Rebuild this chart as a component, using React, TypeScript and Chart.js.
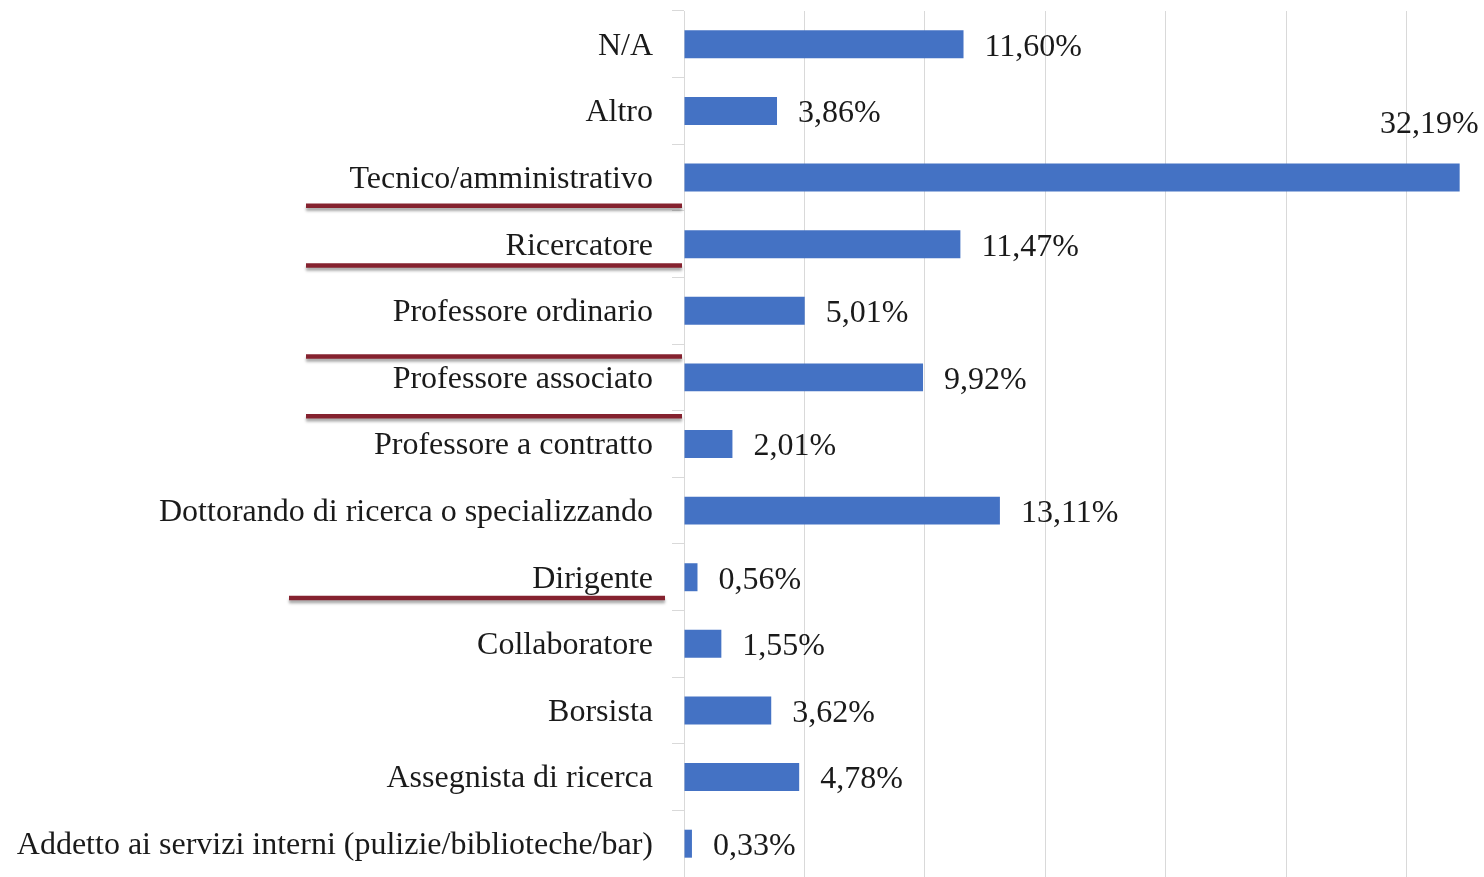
import React, { useEffect, useRef } from "react";
import { Chart, registerables } from "chart.js";

Chart.register(...registerables);

const categories: string[] = [
  "N/A",
  "Altro",
  "Tecnico/amministrativo",
  "Ricercatore",
  "Professore ordinario",
  "Professore associato",
  "Professore a contratto",
  "Dottorando di ricerca o specializzando",
  "Dirigente",
  "Collaboratore",
  "Borsista",
  "Assegnista di ricerca",
  "Addetto ai servizi interni (pulizie/biblioteche/bar)",
];

const values: number[] = [11.6, 3.86, 32.19, 11.47, 5.01, 9.92, 2.01, 13.11, 0.56, 1.55, 3.62, 4.78, 0.33];

const gridStep = 5;
const axisMax = 33.2;

// Hand-drawn dark red underlines (category, offset from band centre in band units, x-range relative to axis)
const underlineCategories: string[] = [
  "Tecnico/amministrativo",
  "Ricercatore",
  "Professore associato",
  "Professore associato",
  "Dirigente",
];
const underlineOffsets: number[] = [0.425, 0.32, -0.315, 0.585, 0.31];
const underlineFrom: number[] = [-378, -378, -378, -378, -395];
const underlineTo: number[] = [-2, -2, -2, -2, -19];

const FONT = "'Liberation Serif', 'Times New Roman', serif";
const TEXT_COLOR = "#1a1a1a";

const fmt = (v: number) => v.toFixed(2).replace(".", ",") + "%";

const overlayPlugin = {
  id: "overlay",
  afterDatasetsDraw(chart: any) {
    const ctx = chart.ctx as CanvasRenderingContext2D;
    const meta = chart.getDatasetMeta(0);
    const yScale = chart.scales.y;
    const area = chart.chartArea;
    ctx.save();
    ctx.font = `32px ${FONT}`;
    ctx.fillStyle = TEXT_COLOR;
    ctx.textBaseline = "middle";
    meta.data.forEach((bar: any, i: number) => {
      const text = fmt(values[i]);
      const w = ctx.measureText(text).width;
      const x = bar.x + 21;
      if (x + w > chart.width - 4) {
        ctx.textAlign = "right";
        ctx.fillText(text, bar.x + 19, bar.y - 53);
      } else {
        ctx.textAlign = "left";
        ctx.fillText(text, x, bar.y + 3);
      }
    });
    ctx.restore();

    // underlines
    const band = yScale.getPixelForValue(1) - yScale.getPixelForValue(0);
    ctx.save();
    ctx.strokeStyle = "#85222F";
    ctx.lineWidth = 4.5;
    ctx.lineCap = "butt";
    ctx.shadowColor = "rgba(0,0,0,0.35)";
    ctx.shadowOffsetY = 3;
    ctx.shadowBlur = 3;
    underlineCategories.forEach((cat, k) => {
      const idx = categories.indexOf(cat);
      const yc = yScale.getPixelForValue(idx) + underlineOffsets[k] * band;
      ctx.beginPath();
      ctx.moveTo(area.left + underlineFrom[k], yc);
      ctx.lineTo(area.left + underlineTo[k], yc);
      ctx.stroke();
    });
    ctx.restore();
  },
};

export default function App() {
  const canvasRef = useRef<HTMLCanvasElement | null>(null);

  useEffect(() => {
    if (!canvasRef.current) return;
    const chart = new Chart(canvasRef.current, {
      type: "bar",
      data: {
        labels: categories,
        datasets: [
          {
            data: values,
            backgroundColor: "#4472C4",
            borderWidth: 0,
            barPercentage: 0.42,
            categoryPercentage: 1,
          },
        ],
      },
      options: {
        indexAxis: "y",
        animation: false,
        responsive: true,
        maintainAspectRatio: false,
        layout: { padding: { top: 11, left: 0, right: 0, bottom: 0 } },
        plugins: { legend: { display: false }, tooltip: { enabled: false } },
        scales: {
          x: {
            min: 0,
            max: axisMax,
            ticks: { display: false, stepSize: gridStep, includeBounds: false },
            grid: { color: "#d9d9d9", drawTicks: false, lineWidth: 1 },
            border: { display: false },
            afterFit: (s: any) => {
              s.height = 0;
              s.paddingLeft = 0;
              s.paddingRight = 0;
            },
          },
          y: {
            ticks: {
              font: { family: FONT, size: 32 },
              color: TEXT_COLOR,
              padding: 19,
              autoSkip: false,
              labelOffset: 2,
            },
            grid: {
              display: true,
              drawOnChartArea: false,
              offset: true,
              tickLength: 12,
              color: "#d9d9d9",
            },
            border: { display: true, color: "#d9d9d9" },
            afterFit: (s: any) => {
              s.width = 684;
              s.paddingTop = 0;
              s.paddingBottom = 0;
            },
          },
        },
      },
      plugins: [overlayPlugin],
    } as any);
    return () => chart.destroy();
  }, []);

  return (
    <div style={{ position: "absolute", left: 0, top: 0, width: 1484, height: 877, background: "#fff" }}>
      <canvas ref={canvasRef} />
    </div>
  );
}
